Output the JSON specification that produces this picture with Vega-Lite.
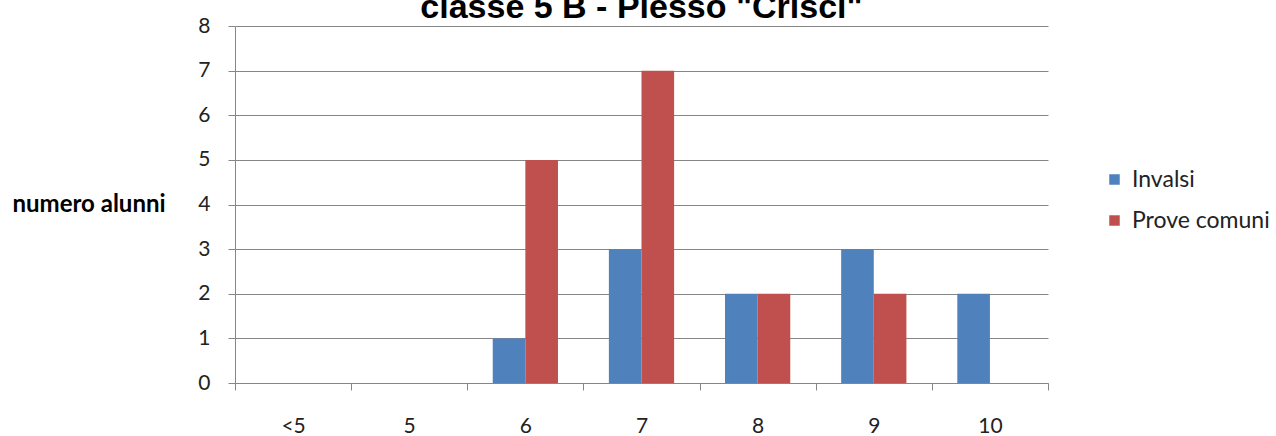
{
  "$schema": "https://vega.github.io/schema/vega-lite/v6.json",
  "autosize": "none",
  "width": 813,
  "height": 357,
  "padding": {"left": 235, "top": 26, "right": 228, "bottom": 53},
  "background": "white",
  "title": {
    "text": "classe 5 B - Plesso \"Crisci\"",
    "font": "Liberation Sans",
    "fontSize": 34,
    "fontWeight": "bold",
    "color": "#000000",
    "anchor": "middle",
    "offset": -10
  },
  "data": {
    "values": [
      {"voto": "<5", "serie": "Invalsi", "n": 0},
      {"voto": "<5", "serie": "Prove comuni", "n": 0},
      {"voto": "5", "serie": "Invalsi", "n": 0},
      {"voto": "5", "serie": "Prove comuni", "n": 0},
      {"voto": "6", "serie": "Invalsi", "n": 1},
      {"voto": "6", "serie": "Prove comuni", "n": 5},
      {"voto": "7", "serie": "Invalsi", "n": 3},
      {"voto": "7", "serie": "Prove comuni", "n": 7},
      {"voto": "8", "serie": "Invalsi", "n": 2},
      {"voto": "8", "serie": "Prove comuni", "n": 2},
      {"voto": "9", "serie": "Invalsi", "n": 3},
      {"voto": "9", "serie": "Prove comuni", "n": 2},
      {"voto": "10", "serie": "Invalsi", "n": 2},
      {"voto": "10", "serie": "Prove comuni", "n": 0}
    ]
  },
  "mark": {"type": "bar"},
  "encoding": {
    "x": {
      "field": "voto",
      "type": "nominal",
      "sort": ["<5", "5", "6", "7", "8", "9", "10"],
      "scale": {"paddingInner": 0, "paddingOuter": 0},
      "axis": {
        "title": null,
        "labelAngle": 0,
        "labelFont": "Lato",
        "labelFontSize": 21,
        "labelColor": "#222222",
        "labelPadding": 25,
        "tickBand": "extent",
        "tickSize": 7,
        "tickColor": "#868686",
        "domainColor": "#868686",
        "grid": false
      }
    },
    "xOffset": {
      "field": "serie",
      "type": "nominal",
      "scale": {"paddingInner": 0, "paddingOuter": 0.78}
    },
    "y": {
      "field": "n",
      "type": "quantitative",
      "scale": {"domain": [0, 8], "nice": false},
      "axis": {
        "values": [0, 1, 2, 3, 4, 5, 6, 7, 8],
        "title": "numero alunni",
        "titleAngle": 0,
        "titleAlign": "left",
        "titleBaseline": "middle",
        "titleX": -223,
        "titleY": 178,
        "titleFont": "Lato",
        "titleFontSize": 24,
        "titleFontWeight": "bold",
        "titleColor": "#000000",
        "labelFont": "Lato",
        "labelFontSize": 21,
        "labelColor": "#222222",
        "labelPadding": 18,
        "tickSize": 7,
        "tickColor": "#868686",
        "domainColor": "#868686",
        "gridColor": "#868686",
        "grid": true
      }
    },
    "color": {
      "field": "serie",
      "type": "nominal",
      "scale": {"domain": ["Invalsi", "Prove comuni"], "range": ["#4F81BD", "#C0504D"]},
      "legend": {
        "title": null,
        "orient": "none",
        "legendX": 868,
        "legendY": 142,
        "symbolType": "square",
        "symbolSize": 110,
        "symbolStrokeWidth": 0,
        "labelFont": "Lato",
        "labelFontSize": 23,
        "labelColor": "#222222",
        "rowPadding": 17,
        "labelOffset": 6
      }
    }
  },
  "config": {"view": {"stroke": null}}
}
